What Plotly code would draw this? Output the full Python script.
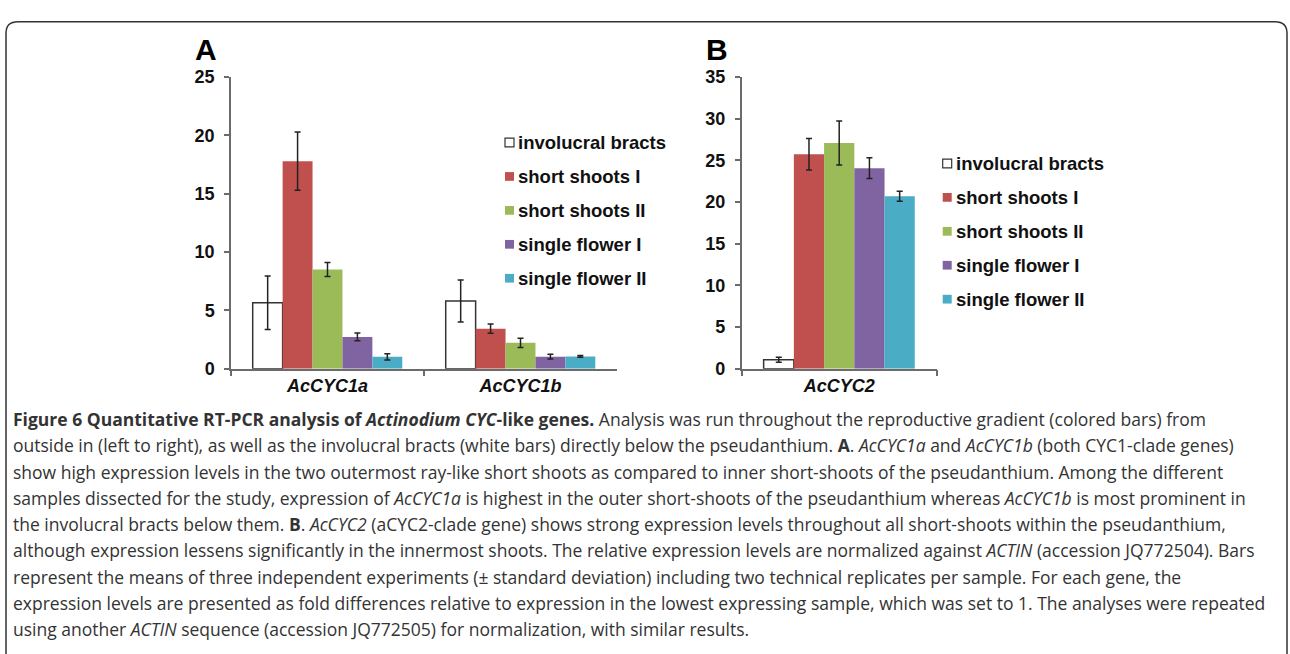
import plotly.graph_objects as go

W, H = 1290, 654

# ---------------- data ----------------
samples = ["involucral bracts", "short shoots I", "short shoots II", "single flower I", "single flower II"]
colors = ["#FFFFFF", "#C0504D", "#9BBB59", "#8064A2", "#4BACC6"]

genes_a = ["AcCYC1a", "AcCYC1b"]
vals_a = {
    "involucral bracts": [5.65, 5.8],
    "short shoots I": [17.8, 3.43],
    "short shoots II": [8.5, 2.22],
    "single flower I": [2.72, 1.03],
    "single flower II": [1.02, 1.05],
}
err_a = {
    "involucral bracts": [2.3, 1.8],
    "short shoots I": [2.5, 0.4],
    "short shoots II": [0.6, 0.4],
    "single flower I": [0.33, 0.2],
    "single flower II": [0.27, 0.08],
}

genes_b = ["AcCYC2"]
vals_b = {
    "involucral bracts": [1.07],
    "short shoots I": [25.75],
    "short shoots II": [27.1],
    "single flower I": [24.07],
    "single flower II": [20.7],
}
err_b = {
    "involucral bracts": [0.3],
    "short shoots I": [1.9],
    "short shoots II": [2.65],
    "single flower I": [1.25],
    "single flower II": [0.6],
}

ticks_a = [0, 5, 10, 15, 20, 25]
ticks_b = [0, 5, 10, 15, 20, 25, 30, 35]

caption_lines = [
    "<b>Figure 6 Quantitative RT-PCR analysis of <i>Actinodium CYC</i>-like genes.</b> Analysis was run throughout the reproductive gradient (colored bars) from",
    "outside in (left to right), as well as the involucral bracts (white bars) directly below the pseudanthium. <b>A</b>. <i>AcCYC1a</i> and <i>AcCYC1b</i> (both CYC1-clade genes)",
    "show high expression levels in the two outermost ray-like short shoots as compared to inner short-shoots of the pseudanthium. Among the different",
    "samples dissected for the study, expression of <i>AcCYC1a</i> is highest in the outer short-shoots of the pseudanthium whereas <i>AcCYC1b</i> is most prominent in",
    "the involucral bracts below them. <b>B</b>. <i>AcCYC2</i> (aCYC2-clade gene) shows strong expression levels throughout all short-shoots within the pseudanthium,",
    "although expression lessens significantly in the innermost shoots. The relative expression levels are normalized against <i>ACTIN</i> (accession JQ772504). Bars",
    "represent the means of three independent experiments (± standard deviation) including two technical replicates per sample. For each gene, the",
    "expression levels are presented as fold differences relative to expression in the lowest expressing sample, which was set to 1. The analyses were repeated",
    "using another <i>ACTIN</i> sequence (accession JQ772505) for normalization, with similar results.",
]

# ---------------- helpers ----------------
def fx(p):
    return p / W

def fy(p):
    return 1 - p / H

CHART_FONT = "Liberation Sans, Arial, sans-serif"
CAP_FONT = "Open Sans, Noto Sans, sans-serif"
AXIS_COL = "#6b6b6b"
TEXT_COL = "#111111"

fig = go.Figure()

for name, col in zip(samples, colors):
    line = dict(color="#333333", width=1.5) if col == "#FFFFFF" else dict(color=col, width=0)
    fig.add_trace(go.Bar(
        x=genes_a, y=vals_a[name], name=name, marker=dict(color=col, line=line),
        error_y=dict(type="data", array=err_a[name], color="#222222", thickness=1.5, width=3),
        xaxis="x", yaxis="y", showlegend=False,
    ))
    fig.add_trace(go.Bar(
        x=genes_b, y=vals_b[name], name=name, marker=dict(color=col, line=line),
        error_y=dict(type="data", array=err_b[name], color="#222222", thickness=1.5, width=3),
        xaxis="x2", yaxis="y2", showlegend=False,
    ))

ydom = [fy(370), fy(69.3)]

common_y = dict(
    showline=True, linecolor=AXIS_COL, linewidth=1.5,
    ticks="outside", ticklen=5, tickwidth=1.5, tickcolor=AXIS_COL,
    showgrid=False, zeroline=False, ticklabelstandoff=6,
    tickfont=dict(family=CHART_FONT, size=18, color=TEXT_COL),
)
common_x = dict(
    showline=True, linecolor=AXIS_COL, linewidth=1.5,
    ticks="outside", ticklen=6, tickwidth=1.5, tickcolor=AXIS_COL,
    tickson="boundaries", showgrid=False, zeroline=False,
    tickfont=dict(family=CHART_FONT, size=18, color=TEXT_COL),
)

fig.update_layout(
    width=W, height=H,
    margin=dict(l=0, r=0, t=0, b=0),
    paper_bgcolor="white", plot_bgcolor="white",
    barmode="group", bargap=0.225, bargroupgap=0,
    showlegend=False,
    xaxis=dict(domain=[fx(231), fx(617)], anchor="y",
               tickvals=genes_a, ticktext=["<b><i>%s</i></b>" % g for g in genes_a], **common_x),
    yaxis=dict(domain=ydom, anchor="x", range=[0, 25],
               tickvals=ticks_a, ticktext=["<b>%d</b>" % t for t in ticks_a], **common_y),
    xaxis2=dict(domain=[fx(741.7), fx(936.7)], anchor="y2",
                tickvals=genes_b, ticktext=["<b><i>%s</i></b>" % g for g in genes_b], **common_x),
    yaxis2=dict(domain=ydom, anchor="x2", range=[0, 35],
                tickvals=ticks_b, ticktext=["<b>%d</b>" % t for t in ticks_b], **common_y),
)

annotations = []
shapes = []

# panel letters
for letter, px in (("A", 206), ("B", 717)):
    annotations.append(dict(
        x=fx(px), y=fy(41), xref="paper", yref="paper", text="<b>%s</b>" % letter,
        showarrow=False, xanchor="center", yanchor="middle",
        font=dict(family=CHART_FONT, size=30, color="#000000"),
    ))

# legends
def add_legend(mark_x, text_x, rows_y):
    for name, col, yy in zip(samples, colors, rows_y):
        shapes.append(dict(
            type="rect", xref="paper", yref="paper",
            x0=fx(mark_x), x1=fx(mark_x + 9), y0=fy(yy + 4.5), y1=fy(yy - 4.5),
            fillcolor=col,
            line=dict(color="#333333" if col == "#FFFFFF" else col, width=1.2 if col == "#FFFFFF" else 0),
        ))
        annotations.append(dict(
            x=fx(text_x), y=fy(yy), xref="paper", yref="paper", text="<b>%s</b>" % name,
            showarrow=False, xanchor="left", yanchor="middle",
            font=dict(family=CHART_FONT, size=18.5, color=TEXT_COL),
        ))

add_legend(505, 516, [136.7, 171.7, 206.7, 241.7, 276.7])
add_legend(942.7, 954, [158.3, 193.3, 228.3, 263.3, 298.3])

# caption
for i, line in enumerate(caption_lines):
    annotations.append(dict(
        x=fx(11), y=fy(422 + 27.1 * i), xref="paper", yref="paper", text=line,
        showarrow=False, xanchor="left", yanchor="middle", align="left",
        font=dict(family=CAP_FONT, size=17.5, color="#333333"),
    ))

# rounded frame
r = 12
x0, x1, y0, y1 = 6, 1287, 12, 668
path = (
    f"M {fx(x0)},{fy(y1)} L {fx(x0)},{fy(y0 + r)} Q {fx(x0)},{fy(y0)} {fx(x0 + r)},{fy(y0)} "
    f"L {fx(x1 - r)},{fy(y0)} Q {fx(x1)},{fy(y0)} {fx(x1)},{fy(y0 + r)} L {fx(x1)},{fy(y1)}"
)
shapes.append(dict(type="path", xref="paper", yref="paper", path=path,
                   line=dict(color="#333333", width=1.5)))

fig.update_layout(annotations=annotations, shapes=shapes)

fig.write_html(
    "out.html",
    config={"displayModeBar": False},
    post_script="document.body.style.margin='0px';document.documentElement.style.overflow='hidden';",
)
